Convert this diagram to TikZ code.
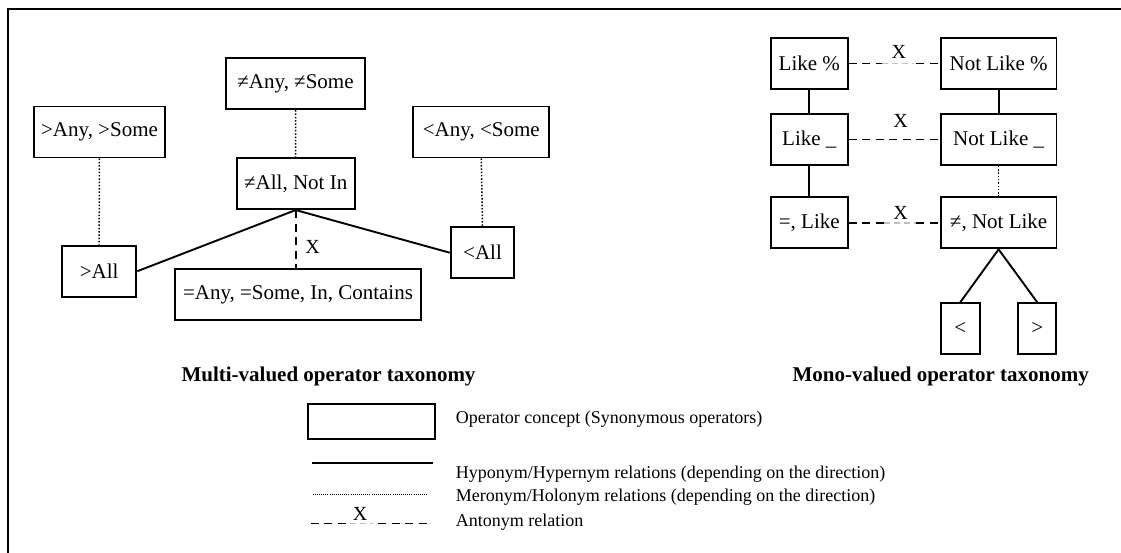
\documentclass[tikz,border=0pt]{standalone}
\usepackage{fontspec}
\setmainfont{Liberation Serif}
\begin{document}
\begin{tikzpicture}[x=1pt,y=-1pt,
  every node/.style={font=\fontsize{21}{25}\selectfont},
  opbox/.style={draw,line width=1.9pt,minimum height=51pt,inner sep=0pt},
  hypo/.style={line width=1.9pt},
  mero/.style={line width=1.5pt,dash pattern=on 1.5pt off 1.8pt},
  anto/.style={line width=1.6pt,dash pattern=on 8pt off 5.5pt},
  faint/.style={draw=black!25,line width=1.2pt,dash pattern=on 6pt off 4pt},
  xlab/.style={inner sep=0pt,font=\fontsize{20}{24}\selectfont},
  title/.style={anchor=base,inner sep=0pt,font=\fontsize{21}{25}\selectfont\bfseries},
  legtext/.style={anchor=base west,inner sep=0pt,font=\fontsize{18}{22}\selectfont}]
\useasboundingbox (0,0) rectangle (1121,552);
% outer frame (top and left edges)
\draw[line width=2pt] (7.5,560) -- (7.5,8.6) -- (1130,8.6);

% multi-valued operators
\node[opbox,minimum width=139.7pt] (neqany) at (295.5,83.7) {≠Any, ≠Some};
\node[opbox,minimum width=131pt] (gtany) at (99.5,132) {>Any, >Some};
\node[opbox,minimum width=136pt] (ltany) at (481.3,132) {<Any, <Some};
\node[opbox,minimum width=117.8pt] (neqall) at (295.7,183.6) {≠All, Not In};
\node[opbox,minimum width=74.6pt] (gtall) at (99.1,271.2) {>All};
\node[opbox,minimum width=63.6pt] (ltall) at (482.5,252.7) {<All};
\node[opbox,minimum width=246.8pt] (eqany) at (298,294.5) {=Any, =Some, In, Contains};

\draw[mero] (neqany) -- (neqall);
\draw[mero] (gtany.south) -- (gtall.north);
\draw[mero] (ltany.south) -- (ltall.north);
\draw[hypo] (neqall.south) -- (gtall.east);
\draw[hypo] (neqall.south) -- (ltall.west);
\draw[anto] (neqall.south) -- node[xlab,pos=0.63,xshift=17pt] (xneq) {X} (neqall.south |- eqany.north);

\node[title] (ttlmulti) at (328.5,381) {Multi-valued operator taxonomy};

% mono-valued operators
\node[opbox,minimum width=77.2pt] (likep) at (809.3,63.4) {Like \%};
\node[opbox,minimum width=115.7pt] (nlikep) at (998.6,63.4) {Not Like \%};
\node[opbox,minimum width=77.2pt] (likeu) at (809.3,139.3) {Like \_};
\node[opbox,minimum width=115.7pt] (nlikeu) at (998.6,139.3) {Not Like \_};
\node[opbox,minimum width=77.2pt] (eqlike) at (809.3,222.9) {=, Like};
\node[opbox,minimum width=115.7pt] (neqlike) at (998.6,222.9) {≠, Not Like};
\node[opbox,minimum width=38.9pt] (lt) at (960.2,328.8) {<};
\node[opbox,minimum width=38.2pt] (gt) at (1037.3,328.8) {>};

\draw[hypo] (likep) -- (likeu);
\draw[hypo] (likeu) -- (eqlike);
\draw[hypo] (nlikep) -- (nlikeu);
\draw[mero] (nlikeu) -- (neqlike);
\draw[hypo] (neqlike.south) -- (lt.north);
\draw[hypo] (neqlike.south) -- (gt.north);

\draw[anto] (likep) -- (nlikep);
\path (likep) -- node[xlab,pos=0.55,yshift=11pt] (xa) {X} (nlikep);
\draw[white,line width=2.6pt] ([xshift=-17pt]xa.center |- likep.east) -- ([xshift=15pt]xa.center |- likep.east);
\draw[faint] ([xshift=-17pt]xa.center |- likep.east) -- ([xshift=15pt]xa.center |- likep.east);

\draw[anto] (likeu) -- node[xlab,pos=0.57,yshift=18pt] (xb) {X} (nlikeu);

\draw[anto] (eqlike) -- (neqlike);
\path (eqlike) -- node[xlab,pos=0.57,yshift=10pt] (xc) {X} (neqlike);
\draw[white,line width=2.6pt] ([xshift=-17pt]xc.center |- eqlike.east) -- ([xshift=15pt]xc.center |- eqlike.east);
\draw[faint] ([xshift=-17pt]xc.center |- eqlike.east) -- ([xshift=15pt]xc.center |- eqlike.east);

\node[title] (ttlmono) at (940.7,381) {Mono-valued operator taxonomy};

% legend
\node[opbox,minimum width=126.7pt,minimum height=35pt] (legbox) at (371.7,421.8) {};
\coordinate (ha) at (311.5,463.3); \coordinate (hb) at (432.7,463.3);
\coordinate (ma) at (312.7,494); \coordinate (mb) at (426.7,494);
\coordinate (aa) at (310.7,523.3); \coordinate (ab) at (426.7,523.3);
\draw[hypo] (ha) -- (hb);
\draw[line width=0.9pt,dash pattern=on 0.9pt off 1.2pt] (ma) -- (mb);
\draw[anto] (aa) -- (ab);
\path (aa) -- node[xlab,pos=0.425,yshift=9pt] (xl) {X} (ab);
\draw[white,line width=2.6pt] ([xshift=-10pt]xl.center |- aa) -- ([xshift=13pt]xl.center |- aa);
\draw[faint] ([xshift=-10pt]xl.center |- aa) -- ([xshift=13pt]xl.center |- aa);

\node[legtext] (legop) at (455.7,423.3) {Operator concept (Synonymous operators)};
\node[legtext] (leghy) at (455.7,478.3) {Hyponym/Hypernym relations (depending on the direction)};
\node[legtext] (legme) at (455.7,501) {Meronym/Holonym relations (depending on the direction)};
\node[legtext] (legan) at (455.7,526.7) {Antonym relation};
\end{tikzpicture}
\end{document}
